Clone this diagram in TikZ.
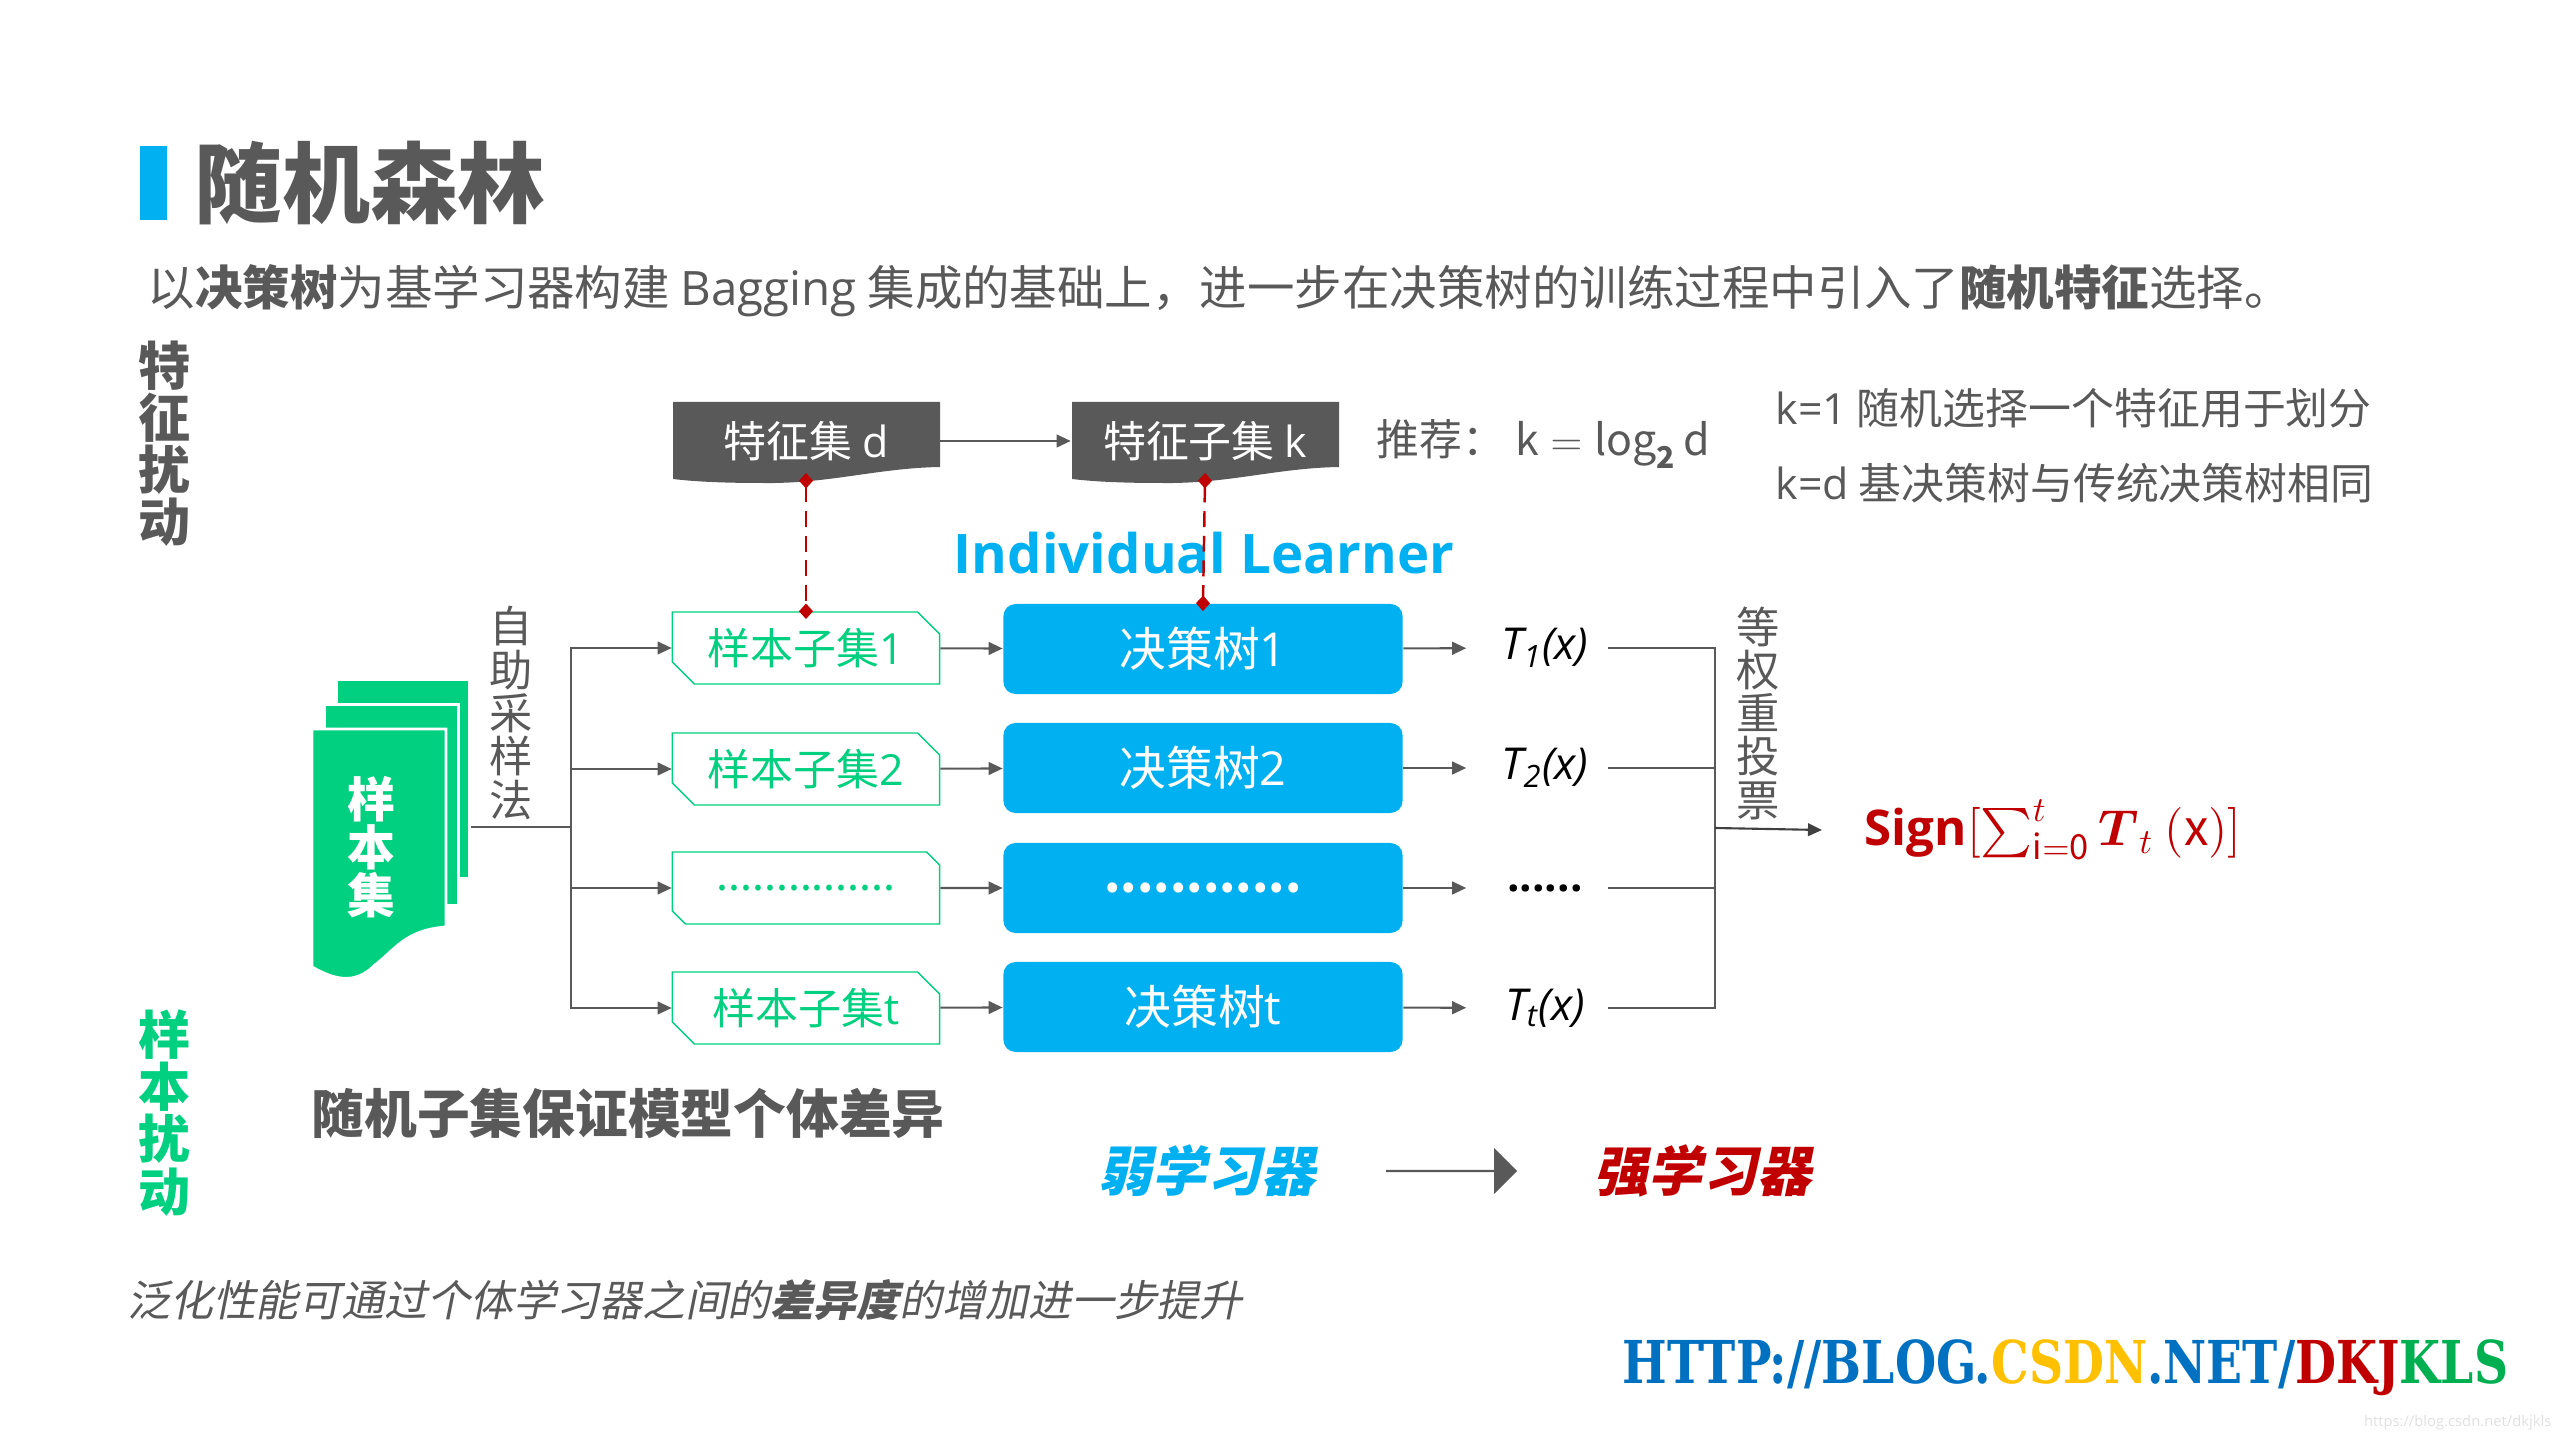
\documentclass[tikz,border=0pt]{standalone}
\usepackage{amsmath,amssymb}
\usepackage{xcolor}
\usepackage{fontspec}
\setmainfont{Noto Sans CJK SC}
\newfontfamily\lat{Open Sans}
\newfontfamily\cjkslant[FakeSlant=0.2]{Noto Sans CJK SC}
\newfontfamily\urlfont[FakeStretch=0.8]{DejaVu Serif}
\usetikzlibrary{arrows.meta,positioning,shapes.misc,shapes.arrows,calc}

\definecolor{inkgray}{HTML}{595959}
\definecolor{skyblue}{HTML}{00B0F0}
\definecolor{leafgreen}{HTML}{00D07F}
\definecolor{deepred}{HTML}{C00000}
\definecolor{urlblue}{HTML}{0070C0}
\definecolor{urlyellow}{HTML}{FFC000}
\definecolor{urlgreen}{HTML}{00B050}

\newcommand{\fs}[1]{\fontsize{#1}{#1}\selectfont}

\tikzset{
    wavesheet/.pic={
        \fill[inkgray] (0,0) -- (267,0) -- (267,65) .. controls (205,66) and (155,82) .. (90,81)
            .. controls (55,81) and (25,80) .. (0,77) -- cycle;
    }
}

\begin{document}
\begin{tikzpicture}[
    x=0.01cm, y=-0.01cm,
    heading/.style={inner sep=0pt, text=inkgray, font=\fs{25}\bfseries},
    plain/.style={inner sep=0pt, text=inkgray, font=\fs{12.2}},
    sidelabel/.style={inner sep=0pt, align=center, font=\fs{14.8}\bfseries},
    vlabel/.style={inner sep=0pt, align=center, text=inkgray, font=\fs{12.3}},
    feat/.style={rectangle, minimum width=2.67cm, minimum height=0.78cm, inner sep=0pt, text=white, font=\fs{12.2}},
    subset/.style={chamfered rectangle, chamfered rectangle corners={north east,south west},
        chamfered rectangle xsep=0.12cm, chamfered rectangle ysep=0.1cm, draw=leafgreen, line width=0.4pt,
        fill=white, minimum width=2.67cm, minimum height=0.72cm, inner sep=0pt, text=leafgreen, font=\fs{12.2}},
    tree/.style={rectangle, rounded corners=3.5pt, fill=skyblue, minimum width=3.99cm, minimum height=0.9cm,
        inner sep=0pt, text=white, font=\fs{13.3}},
    learner/.style={minimum width=1.4cm, minimum height=0.6cm, inner sep=0pt, text=black, font=\fs{12.5}\lat\itshape},
    sheet/.style={rectangle, anchor=north west, fill=leafgreen, draw=white, line width=0.8pt, inner sep=0pt},
    arrow/.style={-{Triangle[length=4pt,width=3.6pt]}, line width=0.6pt, draw=inkgray},
    thinline/.style={line width=0.4pt, draw=inkgray},
    link/.style={{Diamond[length=4.4pt,width=4pt]}-{Diamond[length=4.4pt,width=4pt]}, line width=0.7pt, draw=deepred,
        dash pattern=on 4.5pt off 2.5pt, shorten <=-2.2pt, shorten >=-2.2pt}
]
\useasboundingbox (0,0) rectangle (2560,1440);

% Heading
\fill[skyblue] (140,146) rectangle (167,220);
\node[heading] (title) at (370,183) {随机森林};
\node[plain, anchor=west, font=\fs{13.5}] (intro) at (147,291) {以\textbf{决策树}为基学习器构建 {\lat Bagging} 集成的基础上，进一步在决策树的训练过程中引入了\textbf{随机特征}选择。};

% Side labels
\node[sidelabel, text=inkgray] (featlabel) at (165,444) {特\\征\\扰\\动};
\node[sidelabel, text=leafgreen] (samplelabel) at (165,1113) {样\\本\\扰\\动};

% Feature sets
\pic at (673,402) {wavesheet};
\pic at (1072,402) {wavesheet};
\node[feat] (fd) at (806,441) {特征集 {\lat d}};
\node[feat] (fk) at (1205,441) {特征子集 {\lat k}};
\node[plain, anchor=west] (hint) at (1376,444) {推荐： $\mathrm{k}=\log_{\mathbf{2}}\mathrm{d}$};
\node[plain, anchor=west] (k1) at (1775,408) {{\lat k=1} 随机选择一个特征用于划分};
\node[plain, anchor=west] (kd) at (1775,483) {{\lat k=d} 基决策树与传统决策树相同};
\node[inner sep=0pt, text=skyblue, font=\fs{15.5}\lat\bfseries] (indiv) at (1204,553) {Individual Learner};

% Sample stack
\node[sheet, minimum width=1.33cm, minimum height=1.99cm] (sheet3) at (335,678) {};
\node[sheet, minimum width=1.34cm, minimum height=2.01cm] (sheet2) at (323,703) {};
\fill[leafgreen, draw=white, line width=0.8pt] (312,729) -- (446,729) -- (446,927) .. controls (405,930) and (395,950) .. (375,965)
    .. controls (355,985) and (335,980) .. (312,967) -- cycle;
\node[inner sep=0pt, align=center, text=white, font=\fs{13.6}\bfseries] (samples) at (371,847) {样\\本\\集};
\node[vlabel] (bootstrap) at (511,713) {自\\助\\采\\样\\法};

% Rows
\node[subset] (s1) at (806,648) {样本子集{\lat 1}};
\node[subset] (s2) at (806,769) {样本子集{\lat 2}};
\node[subset] (s3) at (806,888) {...............};
\node[subset] (s4) at (806,1008) {样本子集{\lat t}};
\node[tree] (d1) at (1203,649) {决策树{\lat 1}};
\node[tree] (d2) at (1203,768) {决策树{\lat 2}};
\node[tree] (d3) at (1203,888) {\textbf{............}};
\node[tree] (d4) at (1203,1007) {决策树{\lat t}};
\node[learner] (t1) at (1545,648) {T\textsubscript{1}(x)};
\node[learner] (t2) at (1545,768) {T\textsubscript{2}(x)};
\node[learner] (t3) at (1545,888) {\textbf{\upshape ......}};
\node[learner] (t4) at (1545,1008) {T\textsubscript{t}(x)};

% Connectors
\coordinate (split) at (571,827);
\coordinate (vote) at (1715,828);
\draw[arrow] (fd) -- (fk);
\draw[thinline, line width=0.6pt] (sheet3.east |- split) -- (split);
\foreach \r in {1,2,3,4} {
    \draw[arrow] (split) |- (s\r);
    \draw[arrow] (s\r) -- (d\r);
    \draw[arrow, shorten >=0.08cm] (d\r) -- (t\r);
    \draw[thinline, shorten <=-0.08cm] (t\r) -| (vote);
}
\draw[link] (fd.south) -- (s1.north);
\draw[link] (fk.south) -- (d1.north);

% Vote
\node[vlabel] (equal) at (1758,713) {等\\权\\重\\投\\票};
\node[anchor=west, inner ysep=0pt, inner xsep=0.42cm, text=deepred, font=\fs{14}] (sign) at (1822,830) {{\lat\bfseries Sign}$[\sum_{\mathrm{i=0}}^{t}\boldsymbol{T}_{t}\ (\mathrm{x})]$};
\draw[arrow, draw=black!75] (vote) -- (sign.west);

% Bottom
\node[plain, font=\fs{15}\bfseries] (diff) at (628,1113) {随机子集保证模型个体差异};
\node[inner sep=0pt, text=skyblue, font=\fs{15.4}\cjkslant\bfseries] (weak) at (1207,1171) {弱学习器};
\node[inner sep=0pt, text=deepred, font=\fs{15.4}\cjkslant\bfseries] (strong) at (1703,1171) {强学习器};
\node[single arrow, minimum width=0.46cm, minimum height=1.31cm, single arrow head extend=0.13cm, single arrow head indent=0pt,
    inner sep=0pt, fill=inkgray] (gain) at (1451,1171) {};
\node[plain, font=\fs{12.2}\cjkslant] (general) at (685,1300) {泛化性能可通过个体学习器之间的\textbf{差异度}的增加进一步提升};
\node[inner sep=0pt, anchor=east, font=\fs{16.8}\urlfont\bfseries] (url) at (2509,1368) {\textcolor{urlblue}{HTTP://BLOG.}\textcolor{urlyellow}{CSDN}\textcolor{urlblue}{.NET/}\textcolor{deepred}{DKJ}\textcolor{urlgreen}{KLS}};
\node[inner sep=0pt, anchor=east, text=black!12, font=\fs{4.2}\lat] (mark) at (2552,1423) {https://blog.csdn.net/dkjkls};
\end{tikzpicture}
\end{document}
